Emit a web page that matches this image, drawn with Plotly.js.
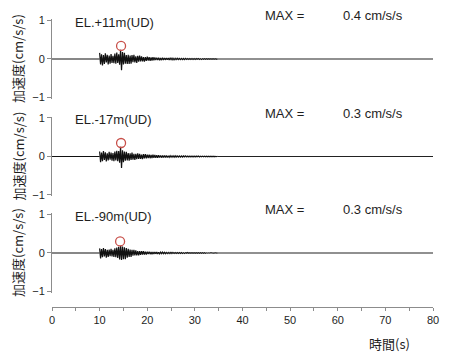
<!DOCTYPE html>
<html>
<head>
<meta charset="utf-8">
<script src="https://cdn.plot.ly/plotly-3.0.1.min.js"></script>
<style>html,body{margin:0;padding:0;background:#fff;}#chart{width:456px;height:356px;}</style>
</head>
<body>
<div id="chart"></div>
<script>
// ---- data ----
const panelLabels = ['EL.+11m(UD)', 'EL.-17m(UD)', 'EL.-90m(UD)'];
const maxLabels = ['0.4 cm/s/s', '0.3 cm/s/s', '0.3 cm/s/s'];
const yTitle = '加速度(cm/s/s)';
const xTitle = '時間(s)';
const xTickVals = [0, 10, 20, 30, 40, 50, 60, 70, 80];
const yTickVals = [-1, 0, 1];
const yTickText = ['\u22121', '0', '1'];

// record before the burst and after it (flat)
const preTime = [0, 10];
const preVal = [0, 0];
const postTime = [34.8, 80];
const postVal = [0, 0];

// burst samples, starting at 10.0 s, every 0.2 s
const burstStart = 10.0;
const burstStep = 0.2;

const acc11 = [
  0.16,-0.14,0.12,-0.17,0.10,-0.13,0.15,-0.09,0.11,-0.14,
  0.09,-0.12,0.13,-0.10,0.08,-0.11,0.14,-0.12,0.17,-0.10,
  0.12,-0.15,0.24,-0.29,0.18,-0.14,0.16,-0.12,0.10,-0.13,
  0.11,-0.13,0.09,-0.12,0.10,-0.08,0.11,-0.09,0.07,-0.10,
  0.08,-0.07,0.09,-0.06,0.07,-0.06,0.05,-0.07,0.05,-0.05,
  0.06,-0.04,0.05,-0.05,0.04,-0.04,0.045,-0.035,0.04,-0.03,
  0.035,-0.03,0.03,-0.035,0.025,-0.03,0.03,-0.025,0.028,-0.022,
  0.025,-0.02,0.024,-0.022,0.02,-0.018,0.022,-0.02,0.018,-0.02,
  0.017,-0.016,0.018,-0.015,0.016,-0.014,0.015,-0.016,0.013,-0.014,
  0.014,-0.012,0.013,-0.012,0.011,-0.013,0.012,-0.01,0.012,-0.011,
  0.01,-0.011,0.01,-0.009,0.011,-0.01,0.009,-0.01,0.009,-0.008,
  0.009,-0.008,0.008,-0.009,0.007,-0.008,0.008,-0.007,0.007,-0.008,
  0.007,-0.006,0.006,-0.007,0.005
];
const acc17 = [
  0.13,-0.15,0.10,-0.12,0.14,-0.09,0.11,-0.13,0.08,-0.10,
  0.12,-0.08,0.10,-0.11,0.09,-0.12,0.13,-0.10,0.15,-0.12,
  0.14,-0.16,0.25,-0.30,0.16,-0.15,0.13,-0.11,0.12,-0.10,
  0.09,-0.11,0.08,-0.09,0.10,-0.08,0.07,-0.09,0.07,-0.07,
  0.08,-0.06,0.07,-0.06,0.05,-0.07,0.06,-0.05,0.06,-0.05,
  0.05,-0.04,0.05,-0.045,0.04,-0.04,0.045,-0.035,0.04,-0.035,
  0.03,-0.035,0.03,-0.03,0.028,-0.03,0.025,-0.028,0.026,-0.024,
  0.022,-0.025,0.02,-0.022,0.02,-0.02,0.018,-0.02,0.018,-0.017,
  0.018,-0.016,0.015,-0.017,0.015,-0.014,0.016,-0.014,0.013,-0.013,
  0.014,-0.012,0.012,-0.013,0.011,-0.012,0.011,-0.01,0.012,-0.011,
  0.01,-0.01,0.011,-0.009,0.01,-0.01,0.009,-0.009,0.009,-0.008,
  0.009,-0.008,0.007,-0.008,0.008,-0.007,0.007,-0.008,0.006,-0.006,
  0.007,-0.006,0.005,-0.006,0.005
];
const acc90 = [
  0.12,-0.14,0.10,-0.11,0.13,-0.09,0.10,-0.12,0.08,-0.10,
  0.09,-0.08,0.11,-0.09,0.08,-0.10,0.12,-0.11,0.14,-0.13,
  0.16,-0.17,0.19,-0.18,0.17,-0.16,0.15,-0.16,0.13,-0.12,
  0.11,-0.10,0.09,-0.10,0.08,-0.07,0.08,-0.06,0.07,-0.06,
  0.05,-0.06,0.05,-0.045,0.05,-0.04,0.045,-0.04,0.035,-0.04,
  0.035,-0.03,0.035,-0.03,0.028,-0.03,0.025,-0.028,0.025,-0.022,
  0.022,-0.024,0.02,-0.022,0.02,-0.018,0.02,-0.018,0.016,-0.018,
  0.016,-0.015,0.016,-0.014,0.015,-0.013,0.014,-0.013,0.012,-0.013,
  0.012,-0.011,0.012,-0.01,0.011,-0.01,0.011,-0.01,0.009,-0.01,
  0.009,-0.009,0.01,-0.008,0.009,-0.008,0.008,-0.009,0.007,-0.008,
  0.008,-0.007,0.007,-0.008,0.007,-0.006,0.007,-0.007,0.006,-0.006,
  0.006,-0.006,0.005,-0.006,0.005,-0.005,0.006,-0.005,0.005,-0.005,
  0.005,-0.004,0.005,-0.004,0.004
];
const bursts = [acc11, acc17, acc90];

// peak markers (red circles)
const peakTime = [14.5, 14.5, 14.3];
const peakMark = [0.34, 0.35, 0.30];

// ---- build ----
const axisGray = '#8c8c8c';
const textColor = '#1e1e1e';
const latin = 'Liberation Sans, Arial, sans-serif';
const cjk = 'Noto Sans CJK JP, sans-serif';
const yNames = ['y', 'y2', 'y3'];
const yKeys = ['yaxis', 'yaxis2', 'yaxis3'];
const domains = [[0.716, 0.9885], [0.381, 0.6535], [0.0493, 0.3219]];

const traces = [];
const annotations = [];
const layout = {
  width: 456, height: 356,
  margin: {l: 52, r: 23, t: 16, b: 49},
  paper_bgcolor: '#ffffff', plot_bgcolor: 'rgba(0,0,0,0)',
  showlegend: false,
  font: {family: latin, size: 11, color: textColor},
  xaxis: {
    range: [0, 80], anchor: 'free', position: 0,
    showline: true, linecolor: axisGray, linewidth: 1,
    ticks: 'outside', ticklen: 3, tickcolor: axisGray, tickwidth: 1,
    tickvals: xTickVals,
    minor: {dtick: 5, tick0: 0, ticks: 'outside', ticklen: 3, tickcolor: axisGray, showgrid: false},
    showgrid: false, zeroline: false,
    tickfont: {family: latin, size: 11, color: textColor}
  }
};

for (let i = 0; i < 3; i++) {
  const yn = yNames[i];
  traces.push({x: preTime, y: preVal, xaxis: 'x', yaxis: yn, type: 'scatter', mode: 'lines',
    line: {color: '#111', width: 1.2}, hoverinfo: 'skip'});
  traces.push({x0: burstStart, dx: burstStep, y: bursts[i], xaxis: 'x', yaxis: yn, type: 'scatter', mode: 'lines',
    line: {color: '#111', width: 1.2}, hoverinfo: 'skip'});
  traces.push({x: postTime, y: postVal, xaxis: 'x', yaxis: yn, type: 'scatter', mode: 'lines',
    line: {color: '#222', width: 1.2}, hoverinfo: 'skip'});
  traces.push({x: [peakTime[i]], y: [peakMark[i]], xaxis: 'x', yaxis: yn, type: 'scatter', mode: 'markers',
    marker: {symbol: 'circle-open', size: 9, color: '#c8504a', line: {color: '#c8504a', width: 1.3}}, hoverinfo: 'skip'});

  layout[yKeys[i]] = {
    domain: domains[i], range: [-1.03, 1.03], anchor: 'x',
    showline: true, linecolor: axisGray, linewidth: 1,
    ticks: 'outside', ticklen: 4, tickcolor: axisGray,
    tickvals: yTickVals, ticktext: yTickText,
    showgrid: false, zeroline: false,
    tickfont: {family: latin, size: 11, color: textColor}
  };

  annotations.push({text: panelLabels[i], xref: 'paper', x: 0.054, xanchor: 'left',
    yref: yn + ' domain', y: 0.966, yanchor: 'middle', showarrow: false,
    font: {family: latin, size: 13, color: textColor}});
  annotations.push({text: 'MAX =', xref: 'paper', x: 0.554, xanchor: 'left',
    yref: yn + ' domain', y: 1.044, yanchor: 'middle', showarrow: false,
    font: {family: latin, size: 13, color: textColor}});
  annotations.push({text: maxLabels[i], xref: 'paper', x: 0.759, xanchor: 'left',
    yref: yn + ' domain', y: 1.044, yanchor: 'middle', showarrow: false,
    font: {family: latin, size: 13, color: textColor}});
  annotations.push({text: yTitle, xref: 'paper', x: 0, xanchor: 'center', xshift: -34,
    yref: yn + ' domain', y: 0.5, yanchor: 'middle', textangle: -90, showarrow: false,
    font: {family: cjk, size: 13, color: textColor}});
}
annotations.push({text: xTitle, xref: 'paper', x: 0.887, xanchor: 'center',
  yref: 'paper', y: -0.124, yanchor: 'middle', showarrow: false,
  font: {family: cjk, size: 13, color: textColor}});
layout.annotations = annotations;

Plotly.newPlot('chart', traces, layout, {displayModeBar: false, staticPlot: true});
</script>
</body>
</html>
